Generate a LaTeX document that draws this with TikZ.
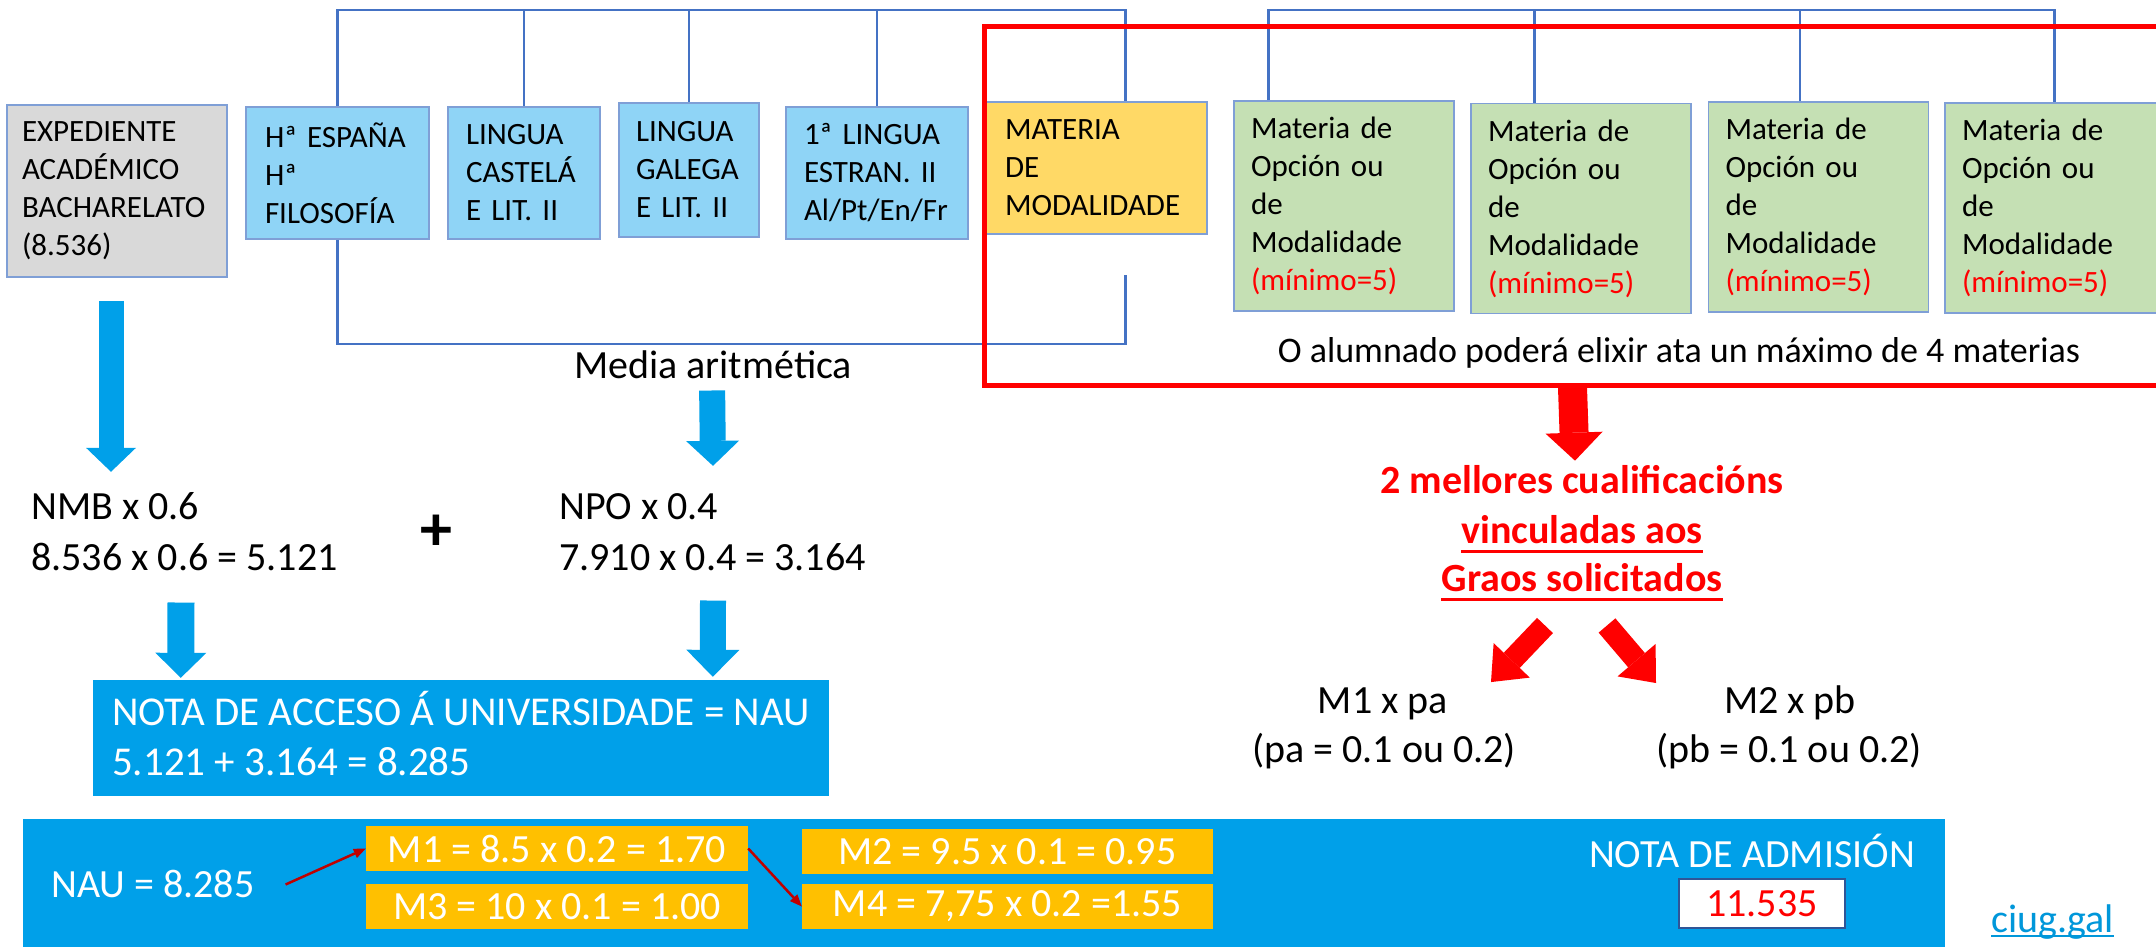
\documentclass[tikz,border=0pt]{standalone}
\usepackage{fontspec}
\setmainfont{Carlito}
\usetikzlibrary{arrows.meta,calc}
\hyphenpenalty=10000
\exhyphenpenalty=10000
\definecolor{brk}{HTML}{4472C4}
\definecolor{bord}{HTML}{7F9FD6}
\definecolor{grayfill}{HTML}{D9D9D9}
\definecolor{lblue}{HTML}{8FD4F6}
\definecolor{ofill}{HTML}{FFD966}
\definecolor{gfill}{HTML}{C5E0B4}
\definecolor{mfill}{HTML}{FFC000}
\definecolor{bblue}{HTML}{00A0E9}
\definecolor{dred}{HTML}{C00000}
\definecolor{link}{HTML}{0097DA}
\definecolor{nbord}{HTML}{2F5597}
\begin{document}
\begin{tikzpicture}[x=1pt,y=-1pt,
  sbox/.style={rectangle, draw=bord, line width=1.5pt, inner ysep=0pt, align=left,
    font=\fontsize{31}{38}\selectfont},
  gbox/.style={sbox, fill=gfill, minimum width=220pt, minimum height=210pt, inner xsep=17pt, text width=186pt},
  txt/.style={font=\fontsize{40}{51}\selectfont, inner sep=0pt},
  btxt/.style={inner sep=0pt, anchor=base, text=red, font=\fontsize{40}{50}\selectfont\bfseries},
  mbox/.style={fill=mfill, text=white, inner sep=0pt, font=\fontsize{40}{48}\selectfont},
  brline/.style={draw=brk, line width=2.5pt},
  barrow/.style={draw=bblue, line width=25pt, -{Triangle[length=24pt,width=50pt,line width=0pt]}},
  rarrow/.style={draw=red, line width=29pt, -{Triangle[length=28pt,width=57pt,line width=0pt]}},
  darrow/.style={draw=dred, line width=2.5pt, -{Triangle[length=12pt,width=10pt,line width=0pt]}}
]
\useasboundingbox (0,0) rectangle (2156,947);
\fill[white] (0,0) rectangle (2156,947);

% top row boxes
\node[sbox, fill=grayfill, minimum width=220pt, minimum height=172pt, inner xsep=15pt, text width=190pt] (gray) at (117,191) {EXPEDIENTE\\ACADÉMICO\\BACHARELATO\\(8.536)};
\node[sbox, fill=lblue, minimum width=183pt, minimum height=132pt, inner xsep=19pt, text width=145pt] (hist) at (337.5,173) {Hª ESPAÑA\\Hª\\FILOSOFÍA};
\node[sbox, fill=lblue, minimum width=152pt, minimum height=132pt, inner xsep=18pt, text width=116pt] (cast) at (524,173) {LINGUA\\CASTELÁ\\E LIT. II};
\node[sbox, fill=lblue, minimum width=140pt, minimum height=134pt, inner xsep=17pt, text width=106pt] (gal) at (689,170) {LINGUA\\GALEGA\\E LIT. II};
\node[sbox, fill=lblue, minimum width=182pt, minimum height=132pt, inner xsep=18pt, text width=146pt] (ling) at (877,173) {1ª LINGUA\\ESTRAN. II\\Al/Pt/En/Fr};
\node[sbox, fill=ofill, minimum width=221pt, minimum height=132pt, inner xsep=19pt, text width=183pt] (mat) at (1096.5,168) {MATERIA\\DE\\MODALIDADE};
\node[gbox] (g1) at (1344,206) {Materia de\\Opción ou\\de\\Modalidade\\{\color{red}(mínimo=5)}};
\node[gbox] (g2) at (1581,208.5) {Materia de\\Opción ou\\de\\Modalidade\\{\color{red}(mínimo=5)}};
\node[gbox] (g3) at (1818.5,207) {Materia de\\Opción ou\\de\\Modalidade\\{\color{red}(mínimo=5)}};
\node[gbox] (g4) at (2055,208) {Materia de\\Opción ou\\de\\Modalidade\\{\color{red}(mínimo=5)}};

% brackets
\coordinate (topline) at (0,11);
\draw[brline] (hist.north) |- ($(mat.north west)+(140,-91)$) -- ($(mat.north west)+(140,0)$);
\draw[brline] (cast.north) -- (cast.north |- topline);
\draw[brline] (gal.north) -- (gal.north |- topline);
\draw[brline] (ling.north) -- (ling.north |- topline);
\draw[brline] (hist.south) |- ($(mat.south west)+(140,109)$) -- ($(mat.south west)+(140,40)$);
\draw[brline] ($(g1.north west)+(35,0)$) |- ($(g4.north west)+(110,-92)$) -- ($(g4.north west)+(110,0)$);
\coordinate (v2) at ($(g2.north west)+(64,0)$);
\coordinate (v3) at ($(g3.north west)+(92,0)$);
\draw[brline] (v2) -- (v2 |- topline);
\draw[brline] (v3) -- (v3 |- topline);

% red frame
\node[draw=red, line width=5pt, minimum width=1216pt, minimum height=358pt, inner sep=0pt] (redbox) at (1592,206) {};

% texts
\node[txt, anchor=base west] (media) at (574,378) {Media aritmética};
\node[inner sep=0pt, anchor=base, font=\fontsize{36}{44}\selectfont] (alum) at (1679,362) {O alumnado poderá elixir ata un máximo de 4 materias};
\node[txt, anchor=base west] (nmb1) at (31,519) {NMB x 0.6};
\node[txt, anchor=base west] (nmb2) at (31,570) {8.536 x 0.6 = 5.121};
\node[txt, anchor=base west] (npo1) at (559,519) {NPO x 0.4};
\node[txt, anchor=base west] (npo2) at (559,570) {7.910 x 0.4 = 3.164};
\node[inner sep=0pt, font=\fontsize{64}{70}\selectfont\bfseries] (plus) at (436,533) {+};

\node[fill=bblue, minimum width=736pt, minimum height=116pt, inner sep=0pt] (nau) at (461,738) {};
\node[inner sep=0pt, anchor=base west, text=white, font=\fontsize{41}{48}\selectfont] (nau1) at (112,725) {NOTA DE ACCESO Á UNIVERSIDADE = NAU};
\node[inner sep=0pt, anchor=base west, text=white, font=\fontsize{41}{48}\selectfont] (nau2) at (112,775) {5.121 + 3.164 = 8.285};

\node[btxt] (best) at (1582,493) {2 mellores cualificacións};
\node[btxt] (vinc) at (1582,543) {vinculadas aos};
\node[btxt] (grao) at (1582,591) {Graos solicitados};
\draw[red, line width=3pt] ($(vinc.base west)+(0,8)$) -- ($(vinc.base east)+(0,8)$);
\draw[red, line width=3pt] ($(grao.base west)+(0,8)$) -- ($(grao.base east)+(0,8)$);

\node[txt, anchor=base] (m1pa1) at (1383,713) {M1 x pa};
\node[txt, anchor=base] (m1pa2) at (1384,762) {(pa = 0.1 ou 0.2)};
\node[txt, anchor=base] (m2pb1) at (1790,713) {M2 x pb};
\node[txt, anchor=base] (m2pb2) at (1789,762) {(pb = 0.1 ou 0.2)};

% bottom band
\node[fill=bblue, minimum width=1922pt, minimum height=132pt, inner sep=0pt] (big) at (984,885) {};
\node[txt, text=white, anchor=base west] (nauv) at (51,897) {NAU = 8.285};
\node[mbox, minimum width=382pt, minimum height=45pt] (m1) at (557,848.5) {M1 = 8.5 x 0.2 = 1.70};
\node[mbox, minimum width=382pt, minimum height=45pt] (m3) at (557,906.5) {M3 = 10 x 0.1 = 1.00};
\node[mbox, minimum width=411pt, minimum height=45pt] (m2) at (1007.5,851.5) {M2 = 9.5 x 0.1 = 0.95};
\node[mbox, minimum width=411pt, minimum height=45pt] (m4) at (1007.5,906.5) {M4 = 7,75 x 0.2 =1.55};
\node[inner sep=0pt, anchor=base, text=white, font=\fontsize{40}{46}\selectfont] (adm) at (1752,867) {NOTA DE ADMISIÓN};
\node[draw=nbord, line width=2pt, fill=white, minimum width=166pt, minimum height=49pt, inner sep=0pt, text=red, font=\fontsize{40}{48}\selectfont] (res) at (1762,903.5) {11.535};
\node[txt, text=link, anchor=base west] (ciug) at (1991,932) {ciug.gal};
\draw[link, line width=2pt] ($(ciug.base west)+(0,4)$) -- ($(ciug.base east)+(0,4)$);

% arrows
\draw[barrow] ($(gray.south)+(-6,23)$) -- ($(nmb1.north west)+(80,-20)$);
\draw[barrow, line width=26pt, -{Triangle[length=25pt,width=53pt,line width=0pt]}] ($(media.south)+(-1,12)$) -- ($(npo1.north west)+(154,-27)$);
\draw[barrow, line width=27pt, -{Triangle[length=25pt,width=51pt,line width=0pt]}] ($(nmb2.south west)+(150,32)$) -- ($(nau.north west)+(88,-2)$);
\draw[barrow, line width=26pt, -{Triangle[length=27pt,width=53pt,line width=0pt]}] ($(npo2.south west)+(154,30)$) -- ($(nau.north west)+(620,-3)$);

\draw[rarrow] ($(redbox.south west)+(591,0)$) -- ($(best.north)+(-7,-4)$);
\draw[rarrow, line width=22pt, -{Triangle[length=30pt,width=50pt,line width=0pt]}] ($(grao.south)+(-37,34)$) -- ($(m1pa1.north)+(108,-5)$);
\draw[rarrow, line width=22pt, -{Triangle[length=30pt,width=50pt,line width=0pt]}] ($(grao.south)+(25,34)$) -- ($(m2pb1.north)+(-134,-2)$);

\draw[darrow] ($(nauv.east)+(31,1)$) -- (m1.west);
\draw[darrow] (m1.east) -- (m4.west);
\end{tikzpicture}
\end{document}
